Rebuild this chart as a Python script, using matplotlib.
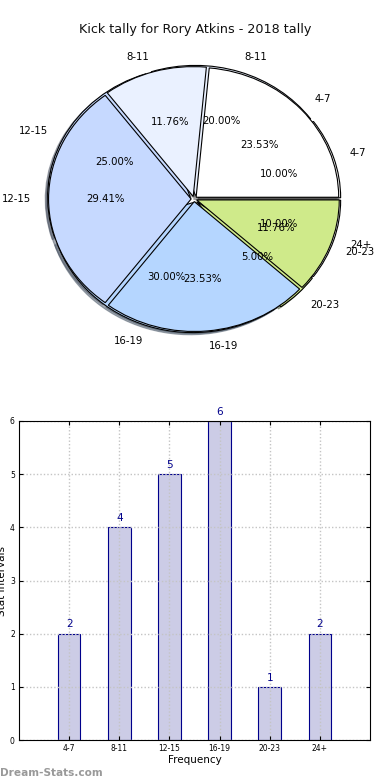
import matplotlib
matplotlib.use("Agg")
import matplotlib.pyplot as plt
import numpy as np

# season tally
categories = ["4-7", "8-11", "12-15", "16-19", "20-23", "24+"]
counts = [2, 4, 5, 6, 1, 2]

# second pie (drawn on top), five wedges
pie2_labels = ["4-7", "8-11", "12-15", "16-19", "20-23"]
pie2_values = [4, 2, 5, 4, 2]

PIE_COLORS = ["#ffffff", "#eaf1ff", "#c6d9ff", "#b5d6ff", "#cfea8a", "#ffffff"]
BAR_FACE = "#cccce6"
BAR_EDGE = "#00008b"

fig = plt.figure(figsize=(3.9, 7.8), dpi=100, facecolor="white")

fig.text(0.5, 1 - 30 / 780, "Kick tally for Rory Atkins - 2018 tally",
         ha="center", va="center", fontsize=9.2, color="#111111")

# --- pie ---
ax1 = fig.add_axes([11.5 / 390, 1 - 365.25 / 780, 365 / 390, 332.5 / 780])
shadow = dict(ox=-0.012, oy=-0.012, shade=0.6)
w1, t1, a1 = ax1.pie(counts, labels=categories, colors=PIE_COLORS[:6],
                     explode=[0.03] * 6, shadow=shadow, autopct="%1.2f%%",
                     labeldistance=1.12,
                     wedgeprops=dict(edgecolor="black", linewidth=0.8),
                     textprops=dict(fontsize=7.3))
w2, t2, a2 = ax1.pie(pie2_values, labels=pie2_labels, colors=PIE_COLORS[:5],
                     explode=[0.02] * 5, shadow=shadow, autopct="%1.2f%%",
                     labeldistance=1.12,
                     wedgeprops=dict(edgecolor="black", linewidth=0.8),
                     textprops=dict(fontsize=7.3))
ax1.set_aspect("auto")
ax1.set_xlim(-1.28, 1.28)
ax1.set_ylim(-1.28, 1.28)
ax1.axis("off")

# --- bars ---
ax2 = fig.add_axes([19 / 390, 40 / 780, 351 / 390, 319 / 780])
x = np.arange(1, len(categories) + 1)
bars = ax2.bar(x, counts, width=0.45, color=BAR_FACE, edgecolor=BAR_EDGE, linewidth=0.8)
for b, v in zip(bars, counts):
    ax2.text(b.get_x() + b.get_width() / 2, v + 0.08, str(v), ha="center", va="bottom",
             color=BAR_EDGE, fontsize=7.5)
ax2.set_xlim(0, 7)
ax2.set_ylim(0, 6)
ax2.set_xticks(x)
ax2.set_xticklabels(categories)
ax2.set_yticks(range(7))
ax2.tick_params(direction="in", labelsize=5.5, length=3, top=True, right=True, pad=3)
ax2.grid(True, color="#c4c4c4", linestyle=(0, (1, 1.5)), linewidth=1)
ax2.set_axisbelow(False)
for s in ax2.spines.values():
    s.set_zorder(5)
ax2.set_xlabel("Frequency", fontsize=7.5, labelpad=1)
ax2.set_ylabel("Stat Intervals", fontsize=7.5, labelpad=2)

fig.text(0, 7 / 780, "Dream-Stats.com", ha="left", va="center",
         fontsize=7.6, color="#999999", fontweight="bold")

plt.savefig("out.png", dpi=100, facecolor="white")
plt.close()
